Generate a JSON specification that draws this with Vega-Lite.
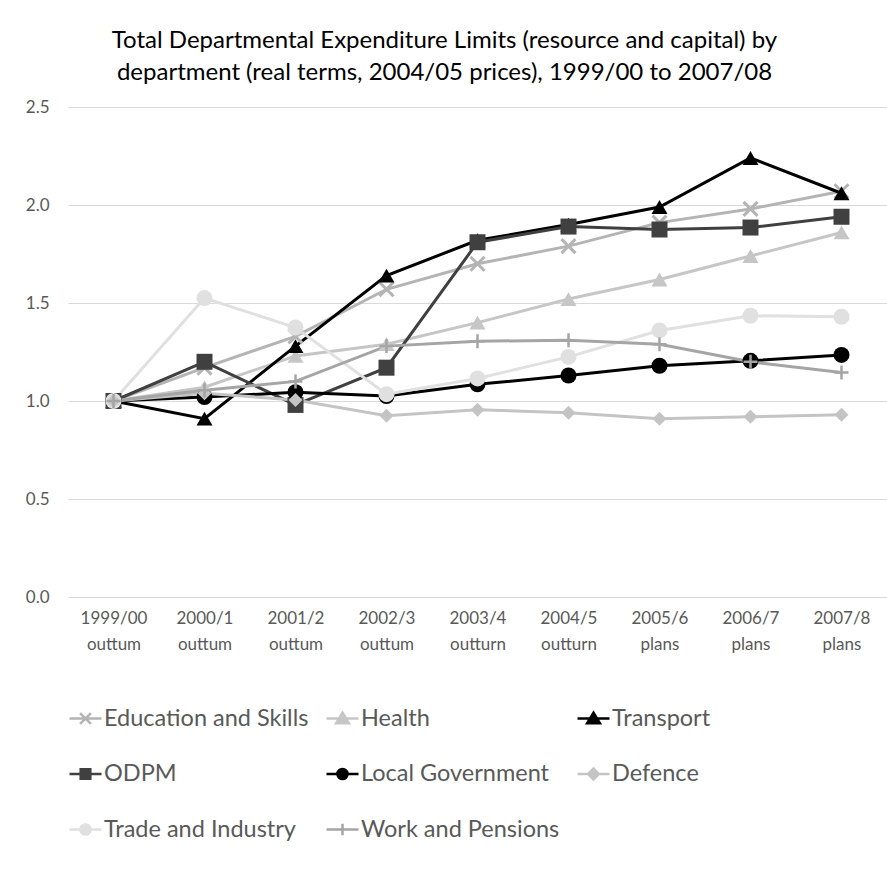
{
  "$schema": "https://vega.github.io/schema/vega-lite/v6.json",
  "width": 819,
  "height": 490,
  "autosize": {"type": "none"},
  "padding": {"left": 68, "top": 107, "right": 0, "bottom": 273},
  "background": "#FFFFFF",
  "title": {
    "text": ["Total Departmental Expenditure Limits (resource and capital) by", "department (real terms, 2004/05 prices), 1999/00 to 2007/08"],
    "font": "Lato",
    "fontSize": 24,
    "fontWeight": "normal",
    "color": "#000000",
    "lineHeight": 32,
    "anchor": "middle",
    "dx": -33,
    "offset": 13
  },
  "config": {
    "view": {"stroke": null},
    "font": "Lato",
    "axis": {"labelFont": "Lato", "labelColor": "#595959", "labelFontSize": 17}
  },
  "data": {
    "values": [
      {"d": "Education and Skills", "c": "1999/00 outtum", "v": 1.0},
      {"d": "Education and Skills", "c": "2000/1 outtum", "v": 1.17},
      {"d": "Education and Skills", "c": "2001/2 outtum", "v": 1.33},
      {"d": "Education and Skills", "c": "2002/3 outtum", "v": 1.57},
      {"d": "Education and Skills", "c": "2003/4 outturn", "v": 1.70},
      {"d": "Education and Skills", "c": "2004/5 outturn", "v": 1.79},
      {"d": "Education and Skills", "c": "2005/6 plans", "v": 1.91},
      {"d": "Education and Skills", "c": "2006/7 plans", "v": 1.98},
      {"d": "Education and Skills", "c": "2007/8 plans", "v": 2.07},
      {"d": "Health", "c": "1999/00 outtum", "v": 1.0},
      {"d": "Health", "c": "2000/1 outtum", "v": 1.07},
      {"d": "Health", "c": "2001/2 outtum", "v": 1.23},
      {"d": "Health", "c": "2002/3 outtum", "v": 1.29},
      {"d": "Health", "c": "2003/4 outturn", "v": 1.40},
      {"d": "Health", "c": "2004/5 outturn", "v": 1.52},
      {"d": "Health", "c": "2005/6 plans", "v": 1.62},
      {"d": "Health", "c": "2006/7 plans", "v": 1.74},
      {"d": "Health", "c": "2007/8 plans", "v": 1.86},
      {"d": "Transport", "c": "1999/00 outtum", "v": 1.0},
      {"d": "Transport", "c": "2000/1 outtum", "v": 0.91},
      {"d": "Transport", "c": "2001/2 outtum", "v": 1.28},
      {"d": "Transport", "c": "2002/3 outtum", "v": 1.64},
      {"d": "Transport", "c": "2003/4 outturn", "v": 1.82},
      {"d": "Transport", "c": "2004/5 outturn", "v": 1.90},
      {"d": "Transport", "c": "2005/6 plans", "v": 1.99},
      {"d": "Transport", "c": "2006/7 plans", "v": 2.24},
      {"d": "Transport", "c": "2007/8 plans", "v": 2.06},
      {"d": "ODPM", "c": "1999/00 outtum", "v": 1.0},
      {"d": "ODPM", "c": "2000/1 outtum", "v": 1.20},
      {"d": "ODPM", "c": "2001/2 outtum", "v": 0.98},
      {"d": "ODPM", "c": "2002/3 outtum", "v": 1.17},
      {"d": "ODPM", "c": "2003/4 outturn", "v": 1.81},
      {"d": "ODPM", "c": "2004/5 outturn", "v": 1.89},
      {"d": "ODPM", "c": "2005/6 plans", "v": 1.875},
      {"d": "ODPM", "c": "2006/7 plans", "v": 1.885},
      {"d": "ODPM", "c": "2007/8 plans", "v": 1.94},
      {"d": "Local Government", "c": "1999/00 outtum", "v": 1.0},
      {"d": "Local Government", "c": "2000/1 outtum", "v": 1.02},
      {"d": "Local Government", "c": "2001/2 outtum", "v": 1.045},
      {"d": "Local Government", "c": "2002/3 outtum", "v": 1.025},
      {"d": "Local Government", "c": "2003/4 outturn", "v": 1.085},
      {"d": "Local Government", "c": "2004/5 outturn", "v": 1.13},
      {"d": "Local Government", "c": "2005/6 plans", "v": 1.18},
      {"d": "Local Government", "c": "2006/7 plans", "v": 1.205},
      {"d": "Local Government", "c": "2007/8 plans", "v": 1.235},
      {"d": "Defence", "c": "1999/00 outtum", "v": 1.0},
      {"d": "Defence", "c": "2000/1 outtum", "v": 1.04},
      {"d": "Defence", "c": "2001/2 outtum", "v": 1.005},
      {"d": "Defence", "c": "2002/3 outtum", "v": 0.925},
      {"d": "Defence", "c": "2003/4 outturn", "v": 0.955},
      {"d": "Defence", "c": "2004/5 outturn", "v": 0.94},
      {"d": "Defence", "c": "2005/6 plans", "v": 0.91},
      {"d": "Defence", "c": "2006/7 plans", "v": 0.92},
      {"d": "Defence", "c": "2007/8 plans", "v": 0.93},
      {"d": "Trade and Industry", "c": "1999/00 outtum", "v": 1.0},
      {"d": "Trade and Industry", "c": "2000/1 outtum", "v": 1.525},
      {"d": "Trade and Industry", "c": "2001/2 outtum", "v": 1.375},
      {"d": "Trade and Industry", "c": "2002/3 outtum", "v": 1.035},
      {"d": "Trade and Industry", "c": "2003/4 outturn", "v": 1.115},
      {"d": "Trade and Industry", "c": "2004/5 outturn", "v": 1.225},
      {"d": "Trade and Industry", "c": "2005/6 plans", "v": 1.36},
      {"d": "Trade and Industry", "c": "2006/7 plans", "v": 1.435},
      {"d": "Trade and Industry", "c": "2007/8 plans", "v": 1.43},
      {"d": "Work and Pensions", "c": "1999/00 outtum", "v": 1.0},
      {"d": "Work and Pensions", "c": "2000/1 outtum", "v": 1.055},
      {"d": "Work and Pensions", "c": "2001/2 outtum", "v": 1.10},
      {"d": "Work and Pensions", "c": "2002/3 outtum", "v": 1.28},
      {"d": "Work and Pensions", "c": "2003/4 outturn", "v": 1.305},
      {"d": "Work and Pensions", "c": "2004/5 outturn", "v": 1.31},
      {"d": "Work and Pensions", "c": "2005/6 plans", "v": 1.29},
      {"d": "Work and Pensions", "c": "2006/7 plans", "v": 1.20},
      {"d": "Work and Pensions", "c": "2007/8 plans", "v": 1.145}
    ]
  },
  "encoding": {
    "x": {
      "field": "c",
      "type": "ordinal",
      "sort": null,
      "scale": {"type": "point", "padding": 0.5},
      "axis": {
        "title": null,
        "labelAngle": 0,
        "domain": false,
        "ticks": false,
        "grid": false,
        "labelPadding": 13,
        "labelLineHeight": 26,
        "labelExpr": "split(datum.label, ' ')"
      }
    },
    "y": {
      "field": "v",
      "type": "quantitative",
      "scale": {"domain": [0, 2.5], "nice": false, "zero": true},
      "axis": {
        "title": null,
        "values": [0, 0.5, 1, 1.5, 2, 2.5],
        "format": ".1f",
        "domain": false,
        "ticks": false,
        "grid": true,
        "gridColor": "#D9D9D9",
        "gridWidth": 1,
        "labelPadding": 19
      }
    },
    "color": {
      "field": "d",
      "type": "nominal",
      "scale": {
        "domain": ["Education and Skills", "Health", "Transport", "ODPM", "Local Government", "Defence", "Trade and Industry", "Work and Pensions"],
        "range": ["#B4B4B4", "#C6C6C6", "#000000", "#404040", "#000000", "#C4C4C4", "#E0E0E0", "#A5A5A5"]
      },
      "legend": {
        "title": null,
        "orient": "none",
        "legendX": 0,
        "legendY": 594,
        "direction": "horizontal",
        "columns": 3,
        "columnPadding": 12,
        "rowPadding": 26.5,
        "symbolSize": 1024,
        "symbolStrokeWidth": 2.5,
        "labelFont": "Lato",
        "labelFontSize": 23.5,
        "labelColor": "#595959",
        "labelOffset": 1,
        "labelLimit": 400,
        "encode": {
          "symbols": {
            "update": {
              "shape": {"signal": "datum.value === 'Education and Skills' ? 'M-1,0L1,0M-0.34,-0.34L0.34,0.34M-0.34,0.34L0.34,-0.34' : (datum.value === 'Health' || datum.value === 'Transport') ? 'M-1,0L1,0M0,-0.36L0.4,0.3L-0.4,0.3Z' : datum.value === 'ODPM' ? 'M-1,0L1,0M-0.3,-0.3L0.3,-0.3L0.3,0.3L-0.3,0.3Z' : datum.value === 'Defence' ? 'M-1,0L1,0M0,-0.34L0.34,0L0,0.34L-0.34,0Z' : datum.value === 'Work and Pensions' ? 'M-1,0L1,0M0,-0.36L0,0.36' : 'M-1,0L1,0M-0.32,0A0.32,0.32,0,1,0,0.32,0A0.32,0.32,0,1,0,-0.32,0Z'"},
              "fill": {"signal": "scale('color', datum.value)"}
            }
          }
        }
      }
    }
  },
  "layer": [
    {
      "mark": {"type": "line", "strokeWidth": 3}
    },
    {
      "transform": [{"filter": "datum.d === 'Education and Skills'"}],
      "mark": {"type": "point", "filled": false, "opacity": 1, "size": 196, "strokeWidth": 3, "shape": "M-1,-1L1,1M-1,1L1,-1"}
    },
    {
      "transform": [{"filter": "datum.d === 'Health' || datum.d === 'Transport'"}],
      "mark": {"type": "point", "filled": true, "opacity": 1, "size": 256, "strokeWidth": 0, "shape": "triangle-up"}
    },
    {
      "transform": [{"filter": "datum.d === 'ODPM'"}],
      "mark": {"type": "point", "filled": true, "opacity": 1, "size": 256, "strokeWidth": 0, "shape": "square"}
    },
    {
      "transform": [{"filter": "datum.d === 'Local Government' || datum.d === 'Trade and Industry'"}],
      "mark": {"type": "point", "filled": true, "opacity": 1, "size": 256, "strokeWidth": 0, "shape": "circle"}
    },
    {
      "transform": [{"filter": "datum.d === 'Defence'"}],
      "mark": {"type": "point", "filled": true, "opacity": 1, "size": 196, "strokeWidth": 0, "shape": "diamond"}
    },
    {
      "transform": [{"filter": "datum.d === 'Work and Pensions'"}],
      "mark": {"type": "point", "filled": false, "opacity": 1, "size": 196, "strokeWidth": 2.5, "shape": "M-1,0L1,0M0,-1L0,1"}
    }
  ]
}
